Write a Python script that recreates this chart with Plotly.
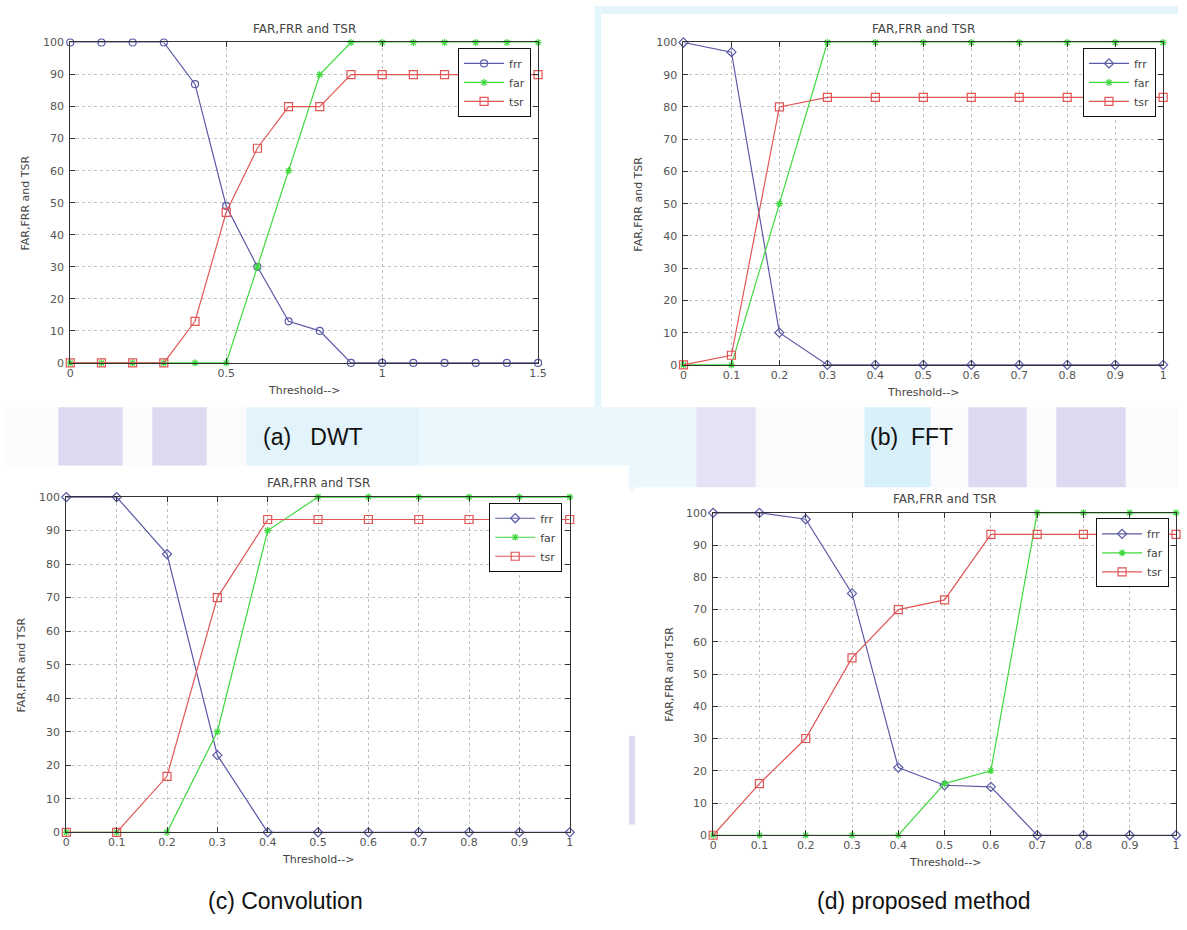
import plotly.graph_objects as go

W, H = 1187, 930

# ---------------- data ----------------
thr_dwt = [0.0, 0.1, 0.2, 0.3, 0.4, 0.5, 0.6, 0.7, 0.8, 0.9, 1.0, 1.1, 1.2, 1.3, 1.4, 1.5]
frr_dwt = [100, 100, 100, 100, 87, 49, 30, 13, 10, 0, 0, 0, 0, 0, 0, 0]
far_dwt = [0, 0, 0, 0, 0, 0, 30, 60, 90, 100, 100, 100, 100, 100, 100, 100]
tsr_dwt = [0, 0, 0, 0, 13, 47, 67, 80, 80, 90, 90, 90, 90, 90, 90, 90]

thr = [0.0, 0.1, 0.2, 0.3, 0.4, 0.5, 0.6, 0.7, 0.8, 0.9, 1.0]
frr_fft = [100, 97, 10, 0, 0, 0, 0, 0, 0, 0, 0]
far_fft = [0, 0, 50, 100, 100, 100, 100, 100, 100, 100, 100]
tsr_fft = [0, 3, 80, 83, 83, 83, 83, 83, 83, 83, 83]

frr_conv = [100, 100, 83, 23, 0, 0, 0, 0, 0, 0, 0]
far_conv = [0, 0, 0, 30, 90, 100, 100, 100, 100, 100, 100]
tsr_conv = [0, 0, 16.7, 70, 93.3, 93.3, 93.3, 93.3, 93.3, 93.3, 93.3]

frr_prop = [100, 100, 98, 75, 21, 15.5, 15, 0, 0, 0, 0]
far_prop = [0, 0, 0, 0, 0, 16, 20, 100, 100, 100, 100]
tsr_prop = [0, 16, 30, 55, 70, 73, 93.3, 93.3, 93.3, 93.3, 93.3]

series_names = ["frr", "far", "tsr"]
y_ticks = [0, 10, 20, 30, 40, 50, 60, 70, 80, 90, 100]
x_ticks_dwt = [0, 0.5, 1, 1.5]
x_ticks = [0, 0.1, 0.2, 0.3, 0.4, 0.5, 0.6, 0.7, 0.8, 0.9, 1]
captions = ["(a)\u00a0\u00a0\u00a0DWT", "(b)\u00a0\u00a0FFT", "(c) Convolution", "(d) proposed method"]
chart_title = "FAR,FRR and TSR"
y_title = "FAR,FRR and TSR"
x_title = "Threshold-->"

# ---------------- layout helpers ----------------
def px(x):
    return x / W

def py(y):
    return 1 - y / H

# panel plot-area boxes in pixels: left, top, right, bottom
panels = [
    dict(box=(67, 37, 540, 362), x=thr_dwt, ys=[frr_dwt, far_dwt, tsr_dwt], xr=[0, 1.5], xt=x_ticks_dwt,
         frr_sym="circle-open", cap=(260, 437, "left")),
    dict(box=(687, 37, 1172, 364), x=thr, ys=[frr_fft, far_fft, tsr_fft], xr=[0, 1], xt=x_ticks,
         frr_sym="diamond-open", cap=(962, 437, "right")),
    dict(box=(63, 498, 572, 838), x=thr, ys=[frr_conv, far_conv, tsr_conv], xr=[0, 1], xt=x_ticks,
         frr_sym="diamond-open", cap=(285, 908, "center")),
    dict(box=(717, 514, 1185, 841), x=thr, ys=[frr_prop, far_prop, tsr_prop], xr=[0, 1], xt=x_ticks,
         frr_sym="diamond-open", cap=(930, 908, "center")),
]

colors = ["#5a5aa6", "#3fd83f", "#e05656"]

fig = go.Figure()
FONT = "DejaVu Sans, Arial, sans-serif"
CAPFONT = "Liberation Sans, Arial, sans-serif"

annotations = []
shapes = []

# ---- background decoration (page watermark stripes) ----
def rect(x0, y0, x1, y1, color):
    shapes.append(dict(type="rect", xref="paper", yref="paper", x0=px(x0), x1=px(x1),
                       y0=py(y1), y1=py(y0), fillcolor=color, line=dict(width=0), layer="below"))

LAV = "#dcd9f1"
LBLUE = "#d8f0fa"
rect(0, 405, W, 495, "#fbfbfe")
rect(55, 405, 120, 470, LAV)
rect(150, 405, 205, 470, LAV)
rect(245, 405, 420, 470, "#e2f3fb")
rect(420, 405, 700, 490, "#eaf7fc")
rect(700, 405, 760, 490, "#e4e2f4")
rect(870, 405, 937, 490, LBLUE)
rect(975, 405, 1034, 490, LAV)
rect(1064, 405, 1134, 490, LAV)
rect(597, 0, 604, 405, "#e3f4fb")
rect(604, 0, W, 8, "#e3f4fb")
rect(631, 740, 639, 830, LAV)
# white chart images on top
rect(0, 0, 597, 407, "white")
rect(604, 8, W, 407, "white")
rect(0, 466, 632, 880, "white")
rect(638, 488, W, 880, "white")

for i, p in enumerate(panels):
    n = i + 1
    sfx = "" if n == 1 else str(n)
    L, T, R, B = p["box"]
    xa = "x" + sfx
    ya = "y" + sfx
    leg = "legend" + sfx
    syms = [p["frr_sym"], "asterisk-open", "square-open"]
    sizes = [7, 6, 8]
    for name, yv, col, sym, sz in zip(series_names, p["ys"], colors, syms, sizes):
        fig.add_trace(go.Scatter(
            x=p["x"], y=yv, name=name, mode="lines+markers",
            line=dict(color=col, width=1.2),
            marker=dict(symbol=sym, size=sz, color=col, line=dict(color=col, width=1.2)),
            xaxis=xa, yaxis=ya, legend=leg, cliponaxis=False,
        ))
    axis_common = dict(showline=True, linecolor="#333333", linewidth=1, mirror="ticks",
                       ticks="inside", ticklen=5, tickcolor="#333333",
                       showgrid=True, gridcolor="#c2c2c2", griddash="dot", gridwidth=1,
                       zeroline=False, tickfont=dict(family=FONT, size=11, color="#555555"),
                       fixedrange=True)
    fig.update_layout(**{
        "xaxis" + sfx: dict(domain=[px(L), px(R)], range=p["xr"], tickvals=p["xt"],
                            anchor=ya, **axis_common),
        "yaxis" + sfx: dict(domain=[py(B), py(T)], range=[0, 100], tickvals=y_ticks,
                            anchor=xa, ticklabelstandoff=3, **axis_common),
        leg: dict(x=px(L + 0.985 * (R - L)), y=py(T + 0.017 * (B - T)), xanchor="right", yanchor="top",
                  xref="paper", yref="paper", bgcolor="white", bordercolor="#111111", borderwidth=1,
                  font=dict(family=FONT, size=11, color="#444444"), tracegroupgap=0,
                  itemwidth=40),
    })
    cx = (L + R) / 2
    annotations.append(dict(text=chart_title, x=px(cx), y=py(T - 14), xref="paper", yref="paper",
                            showarrow=False, font=dict(family=FONT, size=12, color="#444444"),
                            xanchor="center", yanchor="middle"))
    annotations.append(dict(text=y_title, x=px(L - 45), y=py((T + B) / 2), xref="paper", yref="paper",
                            showarrow=False, textangle=-90, font=dict(family=FONT, size=11, color="#444444"),
                            xanchor="center", yanchor="middle"))
    annotations.append(dict(text=x_title, x=px(cx), y=py(B + 28), xref="paper", yref="paper",
                            showarrow=False, font=dict(family=FONT, size=11, color="#444444"),
                            xanchor="center", yanchor="middle"))
    capx, capy, anc = p["cap"]
    annotations.append(dict(text=captions[i], x=px(capx), y=py(capy), xref="paper", yref="paper",
                            showarrow=False, font=dict(family=CAPFONT, size=23, color="#111111"),
                            xanchor=anc, yanchor="middle"))

fig.update_layout(width=W, height=H, margin=dict(l=0, r=0, t=0, b=0),
                  paper_bgcolor="white", plot_bgcolor="white",
                  annotations=annotations, shapes=shapes, showlegend=True)

fig.write_html("out.html", config={"displayModeBar": False},
               post_script="document.body.style.margin='0';document.body.style.padding='0';"
                           "document.body.style.overflow='hidden';")
